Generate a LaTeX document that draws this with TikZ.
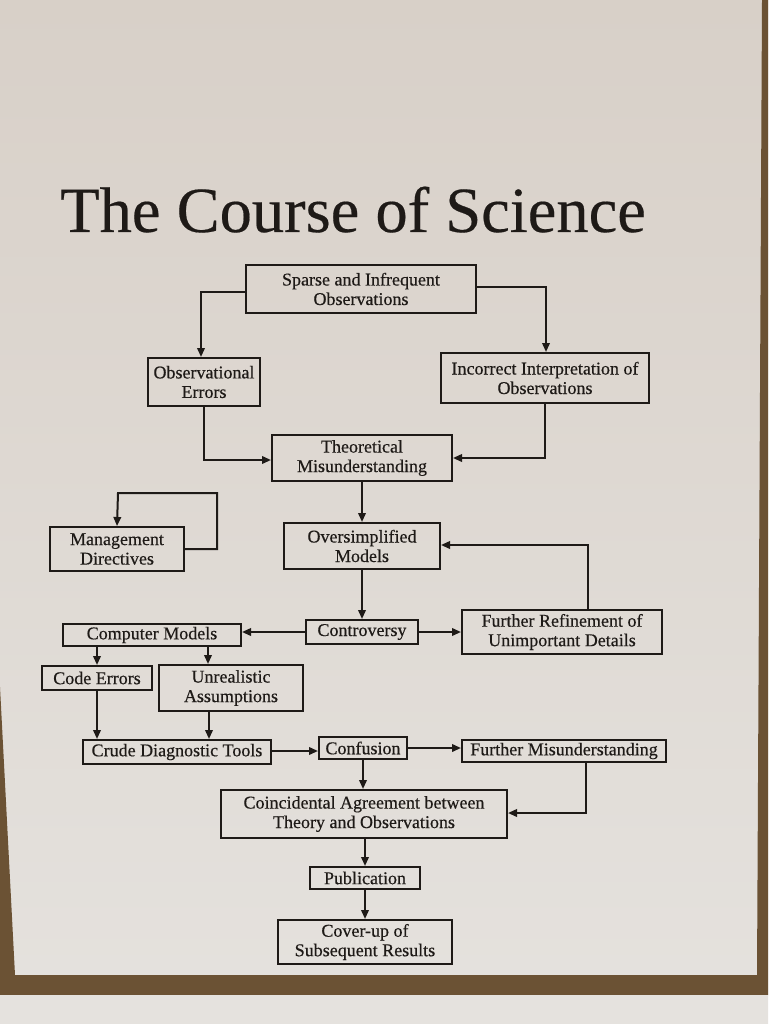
\documentclass[tikz,border=0pt]{standalone}
\usepackage{fontspec}
\setmainfont{Liberation Serif}
\usetikzlibrary{arrows.meta}
\definecolor{papertop}{HTML}{D8D0C8}
\definecolor{paperbot}{HTML}{E5E2DE}
\definecolor{wood}{HTML}{6B5234}
\definecolor{ink}{HTML}{1E1A17}
\tikzset{
  box/.style={draw=ink, line width=2pt, inner sep=0pt, align=center, text=ink,
    font=\fontsize{18}{19.5}\selectfont\addfontfeature{FakeBold=0.4}},
  arr/.style={draw=ink, line width=2pt, -{Triangle[length=9pt,width=7.5pt]}},
}
\begin{document}
\begin{tikzpicture}[x=1pt,y=-1pt]
\useasboundingbox (0,0) rectangle (768,1024);
% background scene
\shade[top color=papertop, bottom color=paperbot] (0,0) rectangle (768,1024);
\fill[wood] (0,687) -- (15,975) -- (757,975) -- (762,0) -- (768,0) -- (768,995) -- (0,995) -- cycle;
\fill[paperbot] (0,995) rectangle (768,1024);
% title
\node[anchor=base west, inner sep=0pt, text=ink, font=\fontsize{64.5}{70}\selectfont\addfontfeature{FakeBold=0.3}] (title) at (60,232) {The Course of Science};
% boxes
\node[box, minimum width=230pt, minimum height=48pt] (sparse) at (361,289) {Sparse and Infrequent\\Observations};
\node[box, minimum width=112pt, minimum height=48pt] (obserr) at (204,382) {Observational\\Errors};
\node[box, minimum width=208pt, minimum height=50pt] (incorr) at (545,378) {Incorrect Interpretation of\\Observations};
\node[box, minimum width=180pt, minimum height=46pt] (theor) at (362,458) {Theoretical\\Misunderstanding};
\node[box, minimum width=134pt, minimum height=44pt] (mgmt) at (117,549) {Management\\Directives};
\node[box, minimum width=156pt, minimum height=46pt] (overs) at (362,546) {Oversimplified\\Models};
\node[box, minimum width=112pt, minimum height=24pt] (contr) at (362,632) {Controversy};
\node[box, minimum width=200pt, minimum height=44pt] (furref) at (562,632) {Further Refinement of\\Unimportant Details};
\node[box, minimum width=178pt, minimum height=22pt] (compm) at (152,635) {Computer Models};
\node[box, minimum width=110pt, minimum height=24pt] (codee) at (97,678) {Code Errors};
\node[box, minimum width=144pt, minimum height=46pt] (unreal) at (231,688) {Unrealistic\\Assumptions};
\node[box, minimum width=188pt, minimum height=24pt] (crude) at (177,752) {Crude Diagnostic Tools};
\node[box, minimum width=88pt, minimum height=22pt] (confu) at (363,748) {Confusion};
\node[box, minimum width=204pt, minimum height=22pt] (furmis) at (564,751) {Further Misunderstanding};
\node[box, minimum width=286pt, minimum height=48pt] (coinc) at (364,814) {Coincidental Agreement between\\Theory and Observations};
\node[box, minimum width=110pt, minimum height=22pt] (publ) at (365,878) {Publication};
\node[box, minimum width=174pt, minimum height=44pt] (cover) at (365,942) {Cover-up of\\Subsequent Results};
% connectors
\draw[arr] ([yshift=-3pt]sparse.west) -| ([xshift=-3pt]obserr.north);
\draw[arr] ([yshift=2pt]sparse.east) -| ([xshift=1pt]incorr.north);
\draw[arr] (obserr.south) |- ([yshift=-2pt]theor.west);
\draw[arr] (incorr.south) |- (theor.east);
\draw[arr] (theor.south) -- (overs.north);
\draw[arr] (mgmt.east) -- ++(32,0) |- ++(-99,-56) -- (mgmt.north);
\draw[arr] (overs.south) -- (contr.north);
\draw[arr] (contr.east) -- (contr.east -| furref.west);
\draw[arr] (contr.west) -- (contr.west -| compm.east);
\draw[arr] ([xshift=26pt]furref.north) |- ([yshift=1pt]overs.east);
\draw[arr] (codee.north |- compm.south) -- (codee.north);
\draw[arr] ([xshift=-23pt]unreal.north |- compm.south) -- ([xshift=-23pt]unreal.north);
\draw[arr] (codee.south) -- (codee.south |- crude.north);
\draw[arr] ([xshift=-22pt]unreal.south) -- ([xshift=-22pt]unreal.south |- crude.north);
\draw[arr] ([yshift=1pt]crude.east) -- ([yshift=1pt]crude.east -| confu.west);
\draw[arr] (confu.east) -- (confu.east -| furmis.west);
\draw[arr] (confu.south) -- (confu.south |- coinc.north);
\draw[arr] ([xshift=22pt]furmis.south) |- ([yshift=1pt]coinc.east);
\draw[arr] (coinc.south -| publ.north) -- (publ.north);
\draw[arr] (publ.south) -- (cover.north);
\end{tikzpicture}
\end{document}
